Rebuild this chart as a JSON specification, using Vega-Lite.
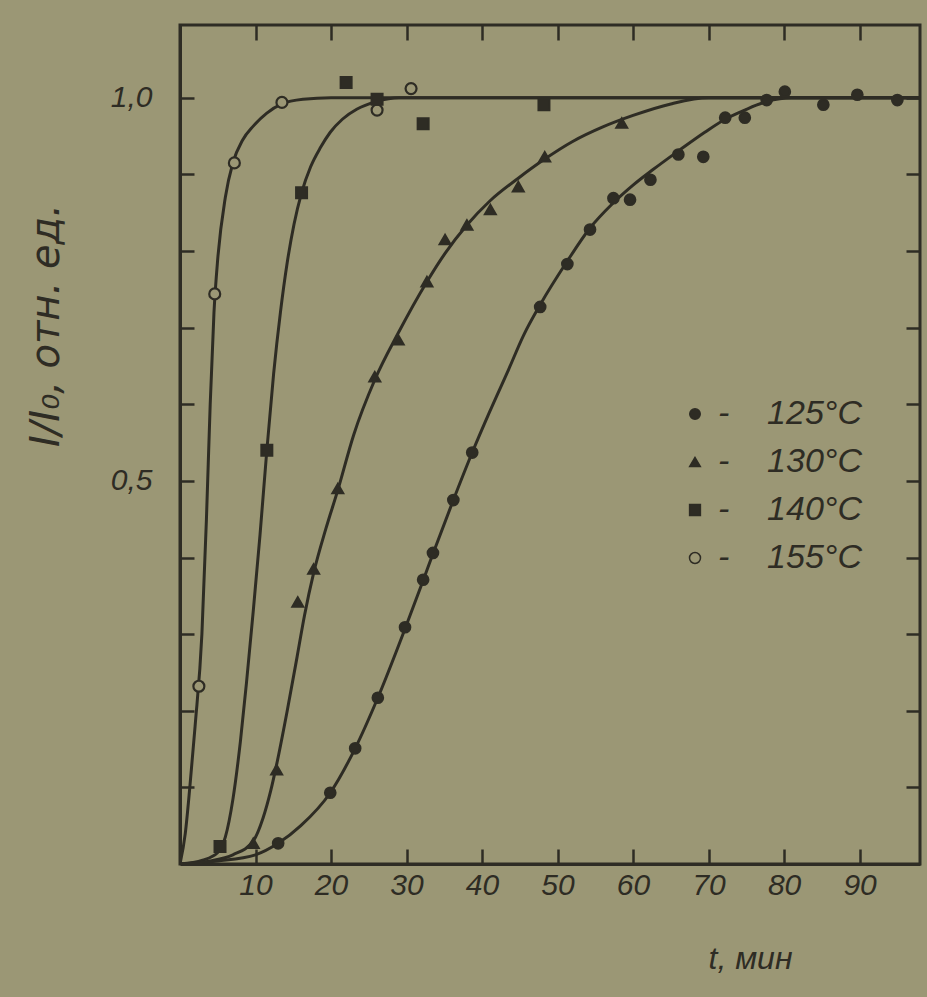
{
  "$schema": "https://vega.github.io/schema/vega-lite/v6.json",
  "width": 740,
  "height": 839,
  "autosize": {"type": "none"},
  "padding": {"left": 180, "top": 25, "right": 7, "bottom": 133},
  "background": "#9b9775",
  "config": {
    "view": {"stroke": "#2e2c24", "strokeWidth": 3},
    "axis": {
      "grid": false,
      "domainColor": "#2e2c24",
      "domainWidth": 3,
      "tickColor": "#2e2c24",
      "tickWidth": 2.5,
      "labelColor": "#2e2c24",
      "labelFont": "Liberation Sans Narrow, Liberation Sans, sans-serif",
      "labelFontStyle": "italic",
      "labelFontSize": 30,
      "titleColor": "#2e2c24",
      "titleFont": "Liberation Sans Narrow, Liberation Sans, sans-serif",
      "titleFontStyle": "italic",
      "titleFontWeight": "normal",
      "titleFontSize": 32
    },
    "legend": {
      "labelFont": "Liberation Sans Narrow, Liberation Sans, sans-serif",
      "labelFontStyle": "italic",
      "labelFontSize": 34,
      "labelColor": "#2e2c24"
    }
  },
  "datasets": {
    "curves": [
      {"series": "155°C", "t": 0, "v": 0},
      {"series": "155°C", "t": 0.7, "v": 0.04},
      {"series": "155°C", "t": 1.3, "v": 0.1},
      {"series": "155°C", "t": 2.0, "v": 0.18},
      {"series": "155°C", "t": 2.9, "v": 0.3},
      {"series": "155°C", "t": 3.5, "v": 0.45},
      {"series": "155°C", "t": 4.0, "v": 0.6},
      {"series": "155°C", "t": 4.5, "v": 0.72},
      {"series": "155°C", "t": 5.0, "v": 0.79},
      {"series": "155°C", "t": 6.0, "v": 0.87},
      {"series": "155°C", "t": 7.0, "v": 0.915},
      {"series": "155°C", "t": 8.3, "v": 0.945},
      {"series": "155°C", "t": 9.7, "v": 0.963},
      {"series": "155°C", "t": 11.5, "v": 0.98},
      {"series": "155°C", "t": 13.5, "v": 0.992},
      {"series": "155°C", "t": 16.3, "v": 0.998},
      {"series": "155°C", "t": 20, "v": 1.0},
      {"series": "155°C", "t": 98, "v": 1.0},
      {"series": "140°C", "t": 0, "v": 0},
      {"series": "140°C", "t": 3, "v": 0.005},
      {"series": "140°C", "t": 5, "v": 0.015},
      {"series": "140°C", "t": 6, "v": 0.035},
      {"series": "140°C", "t": 7, "v": 0.084},
      {"series": "140°C", "t": 8, "v": 0.16},
      {"series": "140°C", "t": 8.8, "v": 0.236},
      {"series": "140°C", "t": 9.7, "v": 0.33},
      {"series": "140°C", "t": 10.6, "v": 0.43},
      {"series": "140°C", "t": 11.5, "v": 0.54},
      {"series": "140°C", "t": 12.4, "v": 0.64},
      {"series": "140°C", "t": 13.3, "v": 0.72},
      {"series": "140°C", "t": 14.2, "v": 0.785},
      {"series": "140°C", "t": 15.1, "v": 0.835},
      {"series": "140°C", "t": 16.1, "v": 0.876},
      {"series": "140°C", "t": 17.3, "v": 0.91},
      {"series": "140°C", "t": 18.6, "v": 0.935},
      {"series": "140°C", "t": 19.9, "v": 0.955},
      {"series": "140°C", "t": 21.5, "v": 0.972},
      {"series": "140°C", "t": 23.4, "v": 0.985},
      {"series": "140°C", "t": 26, "v": 0.995},
      {"series": "140°C", "t": 29, "v": 1.0},
      {"series": "140°C", "t": 98, "v": 1.0},
      {"series": "130°C", "t": 0, "v": 0},
      {"series": "130°C", "t": 4, "v": 0.004},
      {"series": "130°C", "t": 7, "v": 0.012},
      {"series": "130°C", "t": 9.7, "v": 0.03},
      {"series": "130°C", "t": 11, "v": 0.06},
      {"series": "130°C", "t": 12, "v": 0.095},
      {"series": "130°C", "t": 12.8, "v": 0.13},
      {"series": "130°C", "t": 14.2, "v": 0.2},
      {"series": "130°C", "t": 15.5, "v": 0.27},
      {"series": "130°C", "t": 16.5, "v": 0.325},
      {"series": "130°C", "t": 17.7, "v": 0.38},
      {"series": "130°C", "t": 19.3, "v": 0.437},
      {"series": "130°C", "t": 20.9, "v": 0.488},
      {"series": "130°C", "t": 23, "v": 0.56},
      {"series": "130°C", "t": 25.8, "v": 0.632},
      {"series": "130°C", "t": 28.9, "v": 0.693},
      {"series": "130°C", "t": 32.7, "v": 0.76},
      {"series": "130°C", "t": 35.1, "v": 0.797},
      {"series": "130°C", "t": 38, "v": 0.834},
      {"series": "130°C", "t": 41, "v": 0.865},
      {"series": "130°C", "t": 44.8, "v": 0.895},
      {"series": "130°C", "t": 48.3, "v": 0.92},
      {"series": "130°C", "t": 52, "v": 0.943},
      {"series": "130°C", "t": 56, "v": 0.962},
      {"series": "130°C", "t": 60, "v": 0.977},
      {"series": "130°C", "t": 65, "v": 0.992},
      {"series": "130°C", "t": 70, "v": 1.0},
      {"series": "130°C", "t": 98, "v": 1.0},
      {"series": "125°C", "t": 0, "v": 0},
      {"series": "125°C", "t": 5, "v": 0.004},
      {"series": "125°C", "t": 10, "v": 0.012},
      {"series": "125°C", "t": 13, "v": 0.027},
      {"series": "125°C", "t": 16, "v": 0.05},
      {"series": "125°C", "t": 19.9, "v": 0.093},
      {"series": "125°C", "t": 23.2, "v": 0.151},
      {"series": "125°C", "t": 26.2, "v": 0.217},
      {"series": "125°C", "t": 29.8, "v": 0.307},
      {"series": "125°C", "t": 32.2, "v": 0.37},
      {"series": "125°C", "t": 33.5, "v": 0.405},
      {"series": "125°C", "t": 36.2, "v": 0.475},
      {"series": "125°C", "t": 38.7, "v": 0.537},
      {"series": "125°C", "t": 41, "v": 0.59},
      {"series": "125°C", "t": 43.5, "v": 0.645},
      {"series": "125°C", "t": 45.5, "v": 0.69},
      {"series": "125°C", "t": 47.7, "v": 0.73},
      {"series": "125°C", "t": 51.3, "v": 0.787},
      {"series": "125°C", "t": 54.3, "v": 0.83},
      {"series": "125°C", "t": 57.3, "v": 0.862},
      {"series": "125°C", "t": 60, "v": 0.886},
      {"series": "125°C", "t": 62.6, "v": 0.906},
      {"series": "125°C", "t": 66.2, "v": 0.932},
      {"series": "125°C", "t": 69.5, "v": 0.955},
      {"series": "125°C", "t": 72.2, "v": 0.972},
      {"series": "125°C", "t": 74.8, "v": 0.984},
      {"series": "125°C", "t": 77.7, "v": 0.995},
      {"series": "125°C", "t": 81, "v": 1.0},
      {"series": "125°C", "t": 98, "v": 1.0}
    ],
    "points": [
      {"series": "155°C", "t": 2.5, "v": 0.232},
      {"series": "155°C", "t": 4.6, "v": 0.744},
      {"series": "155°C", "t": 7.2, "v": 0.915},
      {"series": "155°C", "t": 13.5, "v": 0.994},
      {"series": "155°C", "t": 26.1, "v": 0.984},
      {"series": "155°C", "t": 30.6, "v": 1.012},
      {"series": "140°C", "t": 5.3, "v": 0.023},
      {"series": "140°C", "t": 11.5, "v": 0.54},
      {"series": "140°C", "t": 16.1, "v": 0.876},
      {"series": "140°C", "t": 22, "v": 1.02},
      {"series": "140°C", "t": 26.1, "v": 0.998},
      {"series": "140°C", "t": 32.2, "v": 0.966},
      {"series": "140°C", "t": 48.2, "v": 0.991},
      {"series": "130°C", "t": 9.7, "v": 0.027},
      {"series": "130°C", "t": 12.8, "v": 0.123},
      {"series": "130°C", "t": 15.6, "v": 0.342},
      {"series": "130°C", "t": 17.7, "v": 0.385},
      {"series": "130°C", "t": 20.9, "v": 0.49},
      {"series": "130°C", "t": 25.8, "v": 0.636},
      {"series": "130°C", "t": 28.9, "v": 0.684},
      {"series": "130°C", "t": 32.7, "v": 0.76},
      {"series": "130°C", "t": 35.1, "v": 0.815},
      {"series": "130°C", "t": 38, "v": 0.834},
      {"series": "130°C", "t": 41.1, "v": 0.854},
      {"series": "130°C", "t": 44.8, "v": 0.884},
      {"series": "130°C", "t": 48.3, "v": 0.923},
      {"series": "130°C", "t": 58.5, "v": 0.967},
      {"series": "125°C", "t": 13, "v": 0.027},
      {"series": "125°C", "t": 19.9, "v": 0.093},
      {"series": "125°C", "t": 23.2, "v": 0.151},
      {"series": "125°C", "t": 26.2, "v": 0.217},
      {"series": "125°C", "t": 29.8, "v": 0.309},
      {"series": "125°C", "t": 32.2, "v": 0.371},
      {"series": "125°C", "t": 33.5, "v": 0.406},
      {"series": "125°C", "t": 36.2, "v": 0.475},
      {"series": "125°C", "t": 38.7, "v": 0.537},
      {"series": "125°C", "t": 47.7, "v": 0.727},
      {"series": "125°C", "t": 51.3, "v": 0.783},
      {"series": "125°C", "t": 54.3, "v": 0.828},
      {"series": "125°C", "t": 57.4, "v": 0.869},
      {"series": "125°C", "t": 59.6, "v": 0.867},
      {"series": "125°C", "t": 62.3, "v": 0.893},
      {"series": "125°C", "t": 66, "v": 0.926},
      {"series": "125°C", "t": 69.3, "v": 0.923},
      {"series": "125°C", "t": 72.2, "v": 0.974},
      {"series": "125°C", "t": 74.8, "v": 0.974},
      {"series": "125°C", "t": 77.7, "v": 0.997},
      {"series": "125°C", "t": 80.1, "v": 1.008},
      {"series": "125°C", "t": 85.2, "v": 0.991},
      {"series": "125°C", "t": 89.7, "v": 1.004},
      {"series": "125°C", "t": 95, "v": 0.997}
    ]
  },
  "resolve": {"axis": {"x": "independent", "y": "independent"}},
  "layer": [
    {
      "data": {"name": "curves"},
      "mark": {"type": "line", "interpolate": "monotone", "color": "#2e2c24", "strokeWidth": 3, "clip": true},
      "encoding": {
        "x": {
          "field": "t", "type": "quantitative",
          "scale": {"domain": [0, 98], "nice": false, "zero": false},
          "axis": {
            "orient": "bottom",
            "values": [10, 20, 30, 40, 50, 60, 70, 80, 90],
            "tickSize": -15,
            "labelPadding": 21,
            "labelFlush": false,
            "title": "t, мин",
            "titleX": 570,
            "titleY": 94,
            "titleBaseline": "middle",
            "titleAlign": "center"
          }
        },
        "y": {
          "field": "v", "type": "quantitative",
          "scale": {"domain": [0, 1.095], "nice": false, "zero": false},
          "axis": {
            "orient": "left",
            "values": [0.1, 0.2, 0.3, 0.4, 0.5, 0.6, 0.7, 0.8, 0.9, 1.0],
            "tickSize": -14,
            "labelExpr": "datum.value == 1 ? '1,0' : (abs(datum.value - 0.5) < 0.001 ? '0,5' : '')",
            "labelPadding": 42,
            "title": "I/I₀, отн. ед.",
            "titleFont": "DejaVu Sans",
            "titleFontSize": 40,
            "titleAngle": 270,
            "titleX": -114,
            "titleY": 300,
            "titleAlign": "center",
            "titleBaseline": "bottom"
          }
        },
        "detail": {"field": "series"}
      }
    },
    {
      "data": {"name": "points"},
      "mark": {"type": "point", "filled": true, "opacity": 1},
      "encoding": {
        "x": {
          "field": "t", "type": "quantitative",
          "axis": {
            "orient": "top",
            "values": [10, 20, 30, 40, 50, 60, 70, 80, 90],
            "tickSize": -15,
            "labels": false,
            "domain": false,
            "title": null
          }
        },
        "y": {
          "field": "v", "type": "quantitative",
          "axis": {
            "orient": "right",
            "values": [0.1, 0.2, 0.3, 0.4, 0.5, 0.6, 0.7, 0.8, 0.9, 1.0],
            "tickSize": -14,
            "labels": false,
            "domain": false,
            "title": null
          }
        },
        "stroke": {"value": "#2e2c24"},
        "strokeWidth": {"value": 2.2},
        "shape": {
          "field": "series", "type": "nominal",
          "scale": {"domain": ["125°C", "130°C", "140°C", "155°C"], "range": ["circle", "triangle-up", "square", "circle"]},
          "legend": {
            "title": null, "orient": "none", "legendX": 498, "legendY": 372,
            "labelExpr": "'-\u00a0\u00a0\u00a0\u00a0' + datum.label",
            "rowPadding": 14, "labelOffset": 6
          }
        },
        "fill": {
          "field": "series", "type": "nominal",
          "scale": {"domain": ["125°C", "130°C", "140°C", "155°C"], "range": ["#2e2c24", "#2e2c24", "#2e2c24", "#9b9775"]},
          "legend": {
            "title": null, "orient": "none", "legendX": 498, "legendY": 372,
            "labelExpr": "'-\u00a0\u00a0\u00a0\u00a0' + datum.label",
            "rowPadding": 14, "labelOffset": 6
          }
        },
        "size": {
          "field": "series", "type": "nominal",
          "scale": {"domain": ["125°C", "130°C", "140°C", "155°C"], "range": [110, 120, 120, 200]},
          "legend": {
            "title": null, "orient": "none", "legendX": 498, "legendY": 372,
            "labelExpr": "'-\u00a0\u00a0\u00a0\u00a0' + datum.label",
            "rowPadding": 14, "labelOffset": 6
          }
        }
      }
    }
  ]
}
